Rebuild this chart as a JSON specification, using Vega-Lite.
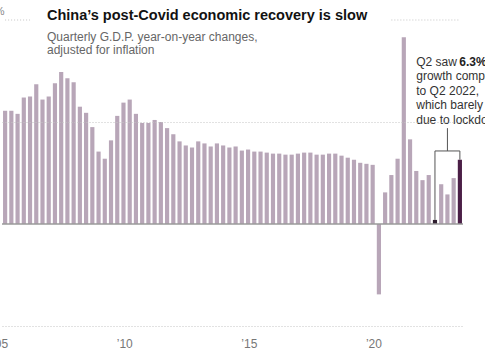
{
  "$schema": "https://vega.github.io/schema/vega-lite/v6.json",
  "width": 461,
  "height": 306,
  "autosize": {"type": "none"},
  "padding": {"left": 2, "top": 20, "right": 22, "bottom": 25},
  "background": "white",
  "config": {"view": {"stroke": null}, "font": "Liberation Sans"},
  "title": {
    "text": "China’s post-Covid economic recovery is slow",
    "subtitle": ["Quarterly G.D.P. year-on-year changes,", "adjusted for inflation"],
    "anchor": "start",
    "frame": "group",
    "dx": 45,
    "offset": -52,
    "font": "Liberation Sans",
    "fontSize": 14.5,
    "fontWeight": "bold",
    "color": "#121212",
    "subtitleFont": "Liberation Sans",
    "subtitleFontSize": 12,
    "subtitleColor": "#666666",
    "subtitleLineHeight": 13.5,
    "subtitlePadding": 8
  },
  "datasets": {
    "gdp": [
      {"q": "2005 Q1", "v": 11.1, "g": "base"}, {"q": "2005 Q2", "v": 11.1, "g": "base"}, {"q": "2005 Q3", "v": 10.8, "g": "base"}, {"q": "2005 Q4", "v": 12.4, "g": "base"},
      {"q": "2006 Q1", "v": 12.5, "g": "base"}, {"q": "2006 Q2", "v": 13.7, "g": "base"}, {"q": "2006 Q3", "v": 12.2, "g": "base"}, {"q": "2006 Q4", "v": 12.5, "g": "base"},
      {"q": "2007 Q1", "v": 13.8, "g": "base"}, {"q": "2007 Q2", "v": 14.9, "g": "base"}, {"q": "2007 Q3", "v": 14.3, "g": "base"}, {"q": "2007 Q4", "v": 13.9, "g": "base"},
      {"q": "2008 Q1", "v": 11.5, "g": "base"}, {"q": "2008 Q2", "v": 10.9, "g": "base"}, {"q": "2008 Q3", "v": 9.5, "g": "base"}, {"q": "2008 Q4", "v": 7.1, "g": "base"},
      {"q": "2009 Q1", "v": 6.4, "g": "base"}, {"q": "2009 Q2", "v": 8.2, "g": "base"}, {"q": "2009 Q3", "v": 10.6, "g": "base"}, {"q": "2009 Q4", "v": 11.9, "g": "base"},
      {"q": "2010 Q1", "v": 12.2, "g": "base"}, {"q": "2010 Q2", "v": 10.8, "g": "base"}, {"q": "2010 Q3", "v": 9.9, "g": "base"}, {"q": "2010 Q4", "v": 9.9, "g": "base"},
      {"q": "2011 Q1", "v": 10.2, "g": "base"}, {"q": "2011 Q2", "v": 10.0, "g": "base"}, {"q": "2011 Q3", "v": 9.4, "g": "base"}, {"q": "2011 Q4", "v": 8.8, "g": "base"},
      {"q": "2012 Q1", "v": 8.1, "g": "base"}, {"q": "2012 Q2", "v": 7.7, "g": "base"}, {"q": "2012 Q3", "v": 7.5, "g": "base"}, {"q": "2012 Q4", "v": 8.1, "g": "base"},
      {"q": "2013 Q1", "v": 7.9, "g": "base"}, {"q": "2013 Q2", "v": 7.6, "g": "base"}, {"q": "2013 Q3", "v": 7.9, "g": "base"}, {"q": "2013 Q4", "v": 7.7, "g": "base"},
      {"q": "2014 Q1", "v": 7.5, "g": "base"}, {"q": "2014 Q2", "v": 7.6, "g": "base"}, {"q": "2014 Q3", "v": 7.2, "g": "base"}, {"q": "2014 Q4", "v": 7.3, "g": "base"},
      {"q": "2015 Q1", "v": 7.1, "g": "base"}, {"q": "2015 Q2", "v": 7.1, "g": "base"}, {"q": "2015 Q3", "v": 7.0, "g": "base"}, {"q": "2015 Q4", "v": 6.9, "g": "base"},
      {"q": "2016 Q1", "v": 6.9, "g": "base"}, {"q": "2016 Q2", "v": 6.8, "g": "base"}, {"q": "2016 Q3", "v": 6.8, "g": "base"}, {"q": "2016 Q4", "v": 6.9, "g": "base"},
      {"q": "2017 Q1", "v": 7.0, "g": "base"}, {"q": "2017 Q2", "v": 7.0, "g": "base"}, {"q": "2017 Q3", "v": 6.8, "g": "base"}, {"q": "2017 Q4", "v": 6.8, "g": "base"},
      {"q": "2018 Q1", "v": 6.9, "g": "base"}, {"q": "2018 Q2", "v": 6.9, "g": "base"}, {"q": "2018 Q3", "v": 6.7, "g": "base"}, {"q": "2018 Q4", "v": 6.5, "g": "base"},
      {"q": "2019 Q1", "v": 6.3, "g": "base"}, {"q": "2019 Q2", "v": 6.0, "g": "base"}, {"q": "2019 Q3", "v": 5.9, "g": "base"}, {"q": "2019 Q4", "v": 5.8, "g": "base"},
      {"q": "2020 Q1", "v": -6.9, "g": "base"}, {"q": "2020 Q2", "v": 3.1, "g": "base"}, {"q": "2020 Q3", "v": 4.8, "g": "base"}, {"q": "2020 Q4", "v": 6.4, "g": "base"},
      {"q": "2021 Q1", "v": 18.3, "g": "base"}, {"q": "2021 Q2", "v": 8.3, "g": "base"}, {"q": "2021 Q3", "v": 5.2, "g": "base"}, {"q": "2021 Q4", "v": 4.3, "g": "base"},
      {"q": "2022 Q1", "v": 4.8, "g": "base"}, {"q": "2022 Q2", "v": 0.4, "g": "ref"}, {"q": "2022 Q3", "v": 3.9, "g": "base"}, {"q": "2022 Q4", "v": 2.9, "g": "base"},
      {"q": "2023 Q1", "v": 4.5, "g": "base"}, {"q": "2023 Q2", "v": 6.3, "g": "now"}
    ]
  },
  "layer": [
    {
      "data": {"name": "gdp"},
      "mark": {"type": "bar"},
      "encoding": {
        "x": {
          "field": "q", "type": "ordinal",
          "scale": {"paddingInner": 0.33, "paddingOuter": 0.165},
          "axis": {
            "title": null, "domain": false, "ticks": false, "grid": false,
            "labelAngle": 0, "labelOverlap": false,
            "labelExpr": "slice(datum.value, 5) == 'Q1' && toNumber(slice(datum.value, 0, 4)) % 5 == 0 ? '’' + slice(datum.value, 2, 4) : ''",
            "labelFont": "Liberation Sans", "labelFontSize": 12, "labelColor": "#777777",
            "labelPadding": 12, "labelOffset": -5
          }
        },
        "y": {
          "field": "v", "type": "quantitative",
          "scale": {"domain": [-10, 20], "nice": false, "zero": false},
          "axis": {
            "title": null, "values": [-10, 10, 20], "domain": false, "ticks": false,
            "grid": true, "gridColor": "#c4c4c4", "gridDash": [1, 2], "zindex": 1,
            "gridOpacity": {"condition": {"test": "datum.value == 20", "value": 0}, "value": 1},
            "labelExpr": "datum.value == 20 ? '20%' : ''",
            "labelAlign": "right", "labelPadding": -2, "labelBaseline": "bottom", "labelOffset": -4,
            "labelColor": "#888888", "labelFontSize": 11
          }
        },
        "color": {
          "field": "g", "type": "nominal",
          "scale": {"domain": ["base", "ref", "now"], "range": ["#b8a6b8", "#2e1d2e", "#4b1f47"]},
          "legend": null
        }
      }
    },
    {
      "data": {"values": [{}]},
      "mark": {"type": "rule", "color": "#9a9a9a", "strokeWidth": 1.5},
      "encoding": {"y": {"datum": 0}}
    },
    {
      "data": {"values": [{"a": "2005 Q1", "b": "2006 Q1"}, {"a": "2020 Q3", "b": "2023 Q2"}]},
      "mark": {"type": "rule", "color": "#c4c4c4", "strokeDash": [1, 2]},
      "encoding": {
        "x": {"field": "a", "type": "ordinal"},
        "x2": {"field": "b"},
        "y": {"datum": 20}
      }
    },
    {
      "data": {"values": [{"a": "2022 Q2", "b": "2023 Q2", "lvl": 7.16}]},
      "mark": {"type": "rule", "color": "#555555", "strokeWidth": 1},
      "encoding": {
        "x": {"field": "a", "type": "ordinal"},
        "x2": {"field": "b"},
        "y": {"field": "lvl", "type": "quantitative"}
      }
    },
    {
      "data": {"values": [
        {"a": "2022 Q2", "lo": 0.4, "hi": 7.16},
        {"a": "2023 Q2", "lo": 6.3, "hi": 7.16},
        {"a": "2022 Q4", "lo": 7.16, "hi": 9.4}
      ]},
      "mark": {"type": "rule", "color": "#555555", "strokeWidth": 1},
      "encoding": {
        "x": {"field": "a", "type": "ordinal"},
        "y": {"field": "lo", "type": "quantitative"},
        "y2": {"field": "hi"}
      }
    },
    {
      "data": {"values": [{}]},
      "mark": {
        "type": "text", "align": "left", "baseline": "alphabetic", "lineHeight": 14.5,
        "font": "Liberation Sans", "fontSize": 12, "color": "#333333",
        "text": ["Q2 saw", "growth compared", "to Q2 2022,", "which barely grew", "due to lockdowns."]
      },
      "encoding": {
        "x": {"datum": "2021 Q3", "type": "ordinal"},
        "y": {"datum": 15.5}
      }
    },
    {
      "data": {"values": [{}]},
      "mark": {
        "type": "text", "align": "left", "baseline": "alphabetic", "dx": 43,
        "font": "Liberation Sans", "fontSize": 12, "fontWeight": "bold", "color": "#222222",
        "text": "6.3%"
      },
      "encoding": {
        "x": {"datum": "2021 Q3", "type": "ordinal"},
        "y": {"datum": 15.5}
      }
    }
  ]
}
